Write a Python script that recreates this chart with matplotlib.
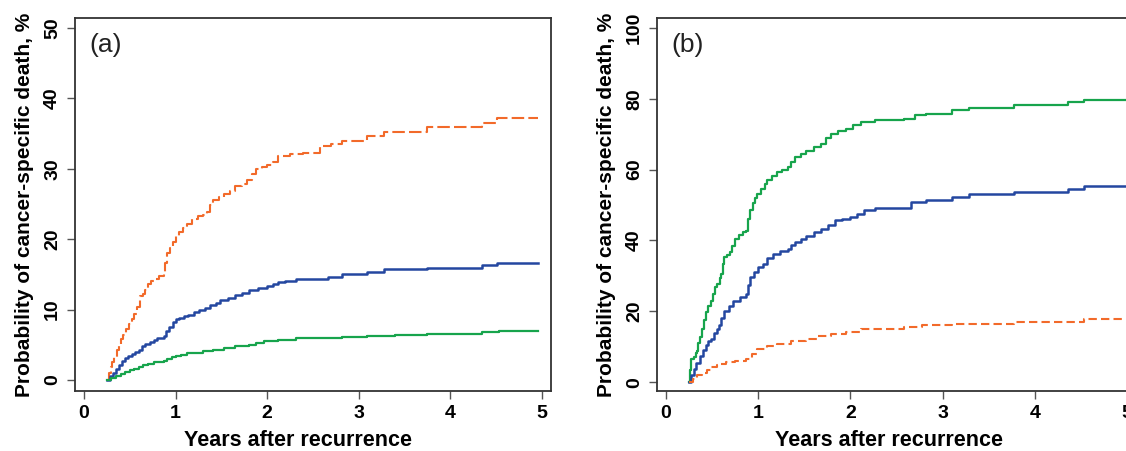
import matplotlib.pyplot as plt

plt.rcParams['font.family'] = ['Liberation Sans', 'DejaVu Sans']

ORANGE = '#F26A2A'
BLUE = '#2447A0'
GREEN = '#17A44C'

# Panel (a): cumulative incidence, years after recurrence vs percent
a_orange_x = [0.25, 0.27, 0.29, 0.31, 0.33, 0.36, 0.38, 0.40, 0.43, 0.46, 0.49, 0.52, 0.55, 0.58, 0.61, 0.64, 0.67, 0.70, 0.73, 0.77, 0.82, 0.87, 0.89, 0.91, 0.94, 0.97, 1.0, 1.04, 1.08, 1.13, 1.18, 1.24, 1.30, 1.34, 1.38, 1.41, 1.47, 1.53, 1.59, 1.65, 1.72, 1.78, 1.83, 1.88, 1.94, 2.0, 2.06, 2.12, 2.25, 2.39, 2.58, 2.70, 2.82, 3.09, 3.28, 3.75, 4.34, 4.51, 4.96]
a_orange_y = [0.0, 1.0, 1.8, 2.6, 3.2, 4.2, 5.0, 5.8, 6.4, 7.2, 8.0, 8.6, 9.4, 10.4, 11.9, 12.2, 12.8, 13.6, 14.0, 14.4, 14.8, 15.2, 16.6, 18.0, 18.8, 19.6, 20.4, 21.0, 21.6, 22.2, 22.8, 23.3, 23.5, 23.9, 24.8, 25.6, 26.0, 26.4, 26.9, 27.5, 27.9, 28.4, 29.2, 29.9, 30.3, 30.6, 31.0, 31.8, 32.1, 32.2, 33.2, 33.5, 33.9, 34.6, 35.2, 35.9, 36.5, 37.2, 37.2]

a_blue_x = [0.25, 0.28, 0.32, 0.35, 0.38, 0.42, 0.45, 0.48, 0.52, 0.56, 0.60, 0.63, 0.67, 0.72, 0.76, 0.80, 0.87, 0.90, 0.93, 0.97, 1.0, 1.04, 1.09, 1.14, 1.20, 1.26, 1.32, 1.38, 1.44, 1.49, 1.57, 1.65, 1.72, 1.80, 1.90, 2.0, 2.06, 2.12, 2.20, 2.31, 2.58, 2.66, 2.82, 3.09, 3.28, 3.75, 4.34, 4.51, 4.96]
a_blue_y = [0.0, 0.6, 1.0, 1.6, 2.2, 2.7, 3.1, 3.4, 3.7, 4.0, 4.3, 4.8, 5.1, 5.4, 5.7, 6.0, 6.2, 7.0, 7.6, 8.2, 8.6, 8.8, 9.1, 9.3, 9.7, 10.0, 10.2, 10.7, 11.0, 11.4, 11.7, 12.1, 12.4, 12.8, 13.0, 13.3, 13.6, 13.9, 14.1, 14.3, 14.3, 14.7, 15.1, 15.4, 15.7, 15.9, 16.3, 16.6, 16.6]

a_green_x = [0.25, 0.30, 0.35, 0.40, 0.45, 0.50, 0.55, 0.60, 0.64, 0.70, 0.76, 0.82, 0.87, 0.91, 0.96, 1.0, 1.06, 1.12, 1.18, 1.30, 1.41, 1.53, 1.65, 1.80, 1.88, 1.96, 2.05, 2.12, 2.31, 2.60, 2.82, 3.09, 3.40, 3.75, 4.34, 4.53, 4.96]
a_green_y = [0.0, 0.3, 0.6, 0.9, 1.1, 1.4, 1.6, 1.9, 2.1, 2.3, 2.5, 2.6, 2.7, 3.0, 3.2, 3.4, 3.6, 3.8, 3.9, 4.1, 4.3, 4.5, 4.8, 5.0, 5.3, 5.5, 5.6, 5.7, 5.9, 6.0, 6.1, 6.3, 6.4, 6.5, 6.8, 6.9, 6.9]

# Panel (b)
b_green_x = [0.25, 0.26, 0.27, 0.30, 0.32, 0.34, 0.35, 0.37, 0.39, 0.41, 0.43, 0.46, 0.49, 0.51, 0.53, 0.55, 0.58, 0.60, 0.62, 0.63, 0.66, 0.69, 0.72, 0.75, 0.79, 0.83, 0.87, 0.89, 0.91, 0.94, 0.97, 0.99, 1.03, 1.07, 1.10, 1.15, 1.20, 1.26, 1.32, 1.36, 1.40, 1.46, 1.52, 1.60, 1.68, 1.74, 1.79, 1.87, 1.95, 2.03, 2.11, 2.27, 2.58, 2.70, 2.82, 3.10, 3.29, 3.77, 4.36, 4.53, 4.99]
b_green_y = [0.0, 3.5, 6.6, 7.2, 8.2, 8.9, 11.0, 12.7, 15.0, 17.5, 19.8, 21.5, 23.0, 25.0, 26.8, 27.8, 29.5, 30.6, 33.5, 35.3, 36.0, 36.7, 38.5, 40.5, 41.5, 42.3, 42.8, 46.0, 48.5, 50.5, 52.0, 53.2, 54.5, 56.0, 57.0, 58.2, 59.3, 60.0, 60.7, 62.2, 63.6, 64.5, 65.4, 66.3, 67.3, 68.8, 70.2, 70.9, 71.6, 72.5, 73.4, 73.9, 74.4, 75.3, 75.8, 76.7, 77.5, 78.3, 79.1, 79.8, 79.8]

b_blue_x = [0.25, 0.27, 0.30, 0.33, 0.37, 0.40, 0.43, 0.46, 0.49, 0.52, 0.55, 0.57, 0.60, 0.63, 0.68, 0.73, 0.80, 0.87, 0.89, 0.91, 0.95, 1.0, 1.05, 1.10, 1.16, 1.24, 1.32, 1.36, 1.40, 1.46, 1.52, 1.60, 1.68, 1.76, 1.83, 1.91, 1.99, 2.07, 2.15, 2.27, 2.58, 2.66, 2.82, 3.10, 3.29, 3.77, 4.36, 4.53, 4.99]
b_blue_y = [0.0, 2.0, 3.8, 5.5, 7.5, 9.0, 10.5, 11.5, 12.2, 14.0, 15.0, 16.0, 18.0, 20.2, 21.5, 23.0, 24.0, 25.0, 27.5, 29.7, 31.0, 32.5, 33.5, 35.0, 36.3, 37.0, 37.7, 38.6, 39.5, 40.5, 41.4, 42.3, 43.3, 44.5, 45.7, 46.2, 46.6, 47.5, 48.5, 49.2, 49.2, 50.8, 51.5, 52.4, 53.0, 53.7, 54.6, 55.5, 55.5]

b_orange_x = [0.25, 0.29, 0.34, 0.39, 0.44, 0.49, 0.55, 0.60, 0.65, 0.75, 0.87, 0.93, 0.99, 1.10, 1.20, 1.35, 1.52, 1.65, 1.79, 1.95, 2.11, 2.58, 2.78, 3.10, 3.77, 4.53, 4.99]
b_orange_y = [0.0, 1.0, 1.9, 2.7, 3.5, 4.2, 4.8, 5.2, 5.6, 6.1, 6.6, 8.0, 9.4, 10.1, 10.8, 11.5, 12.2, 12.9, 13.7, 14.3, 15.1, 15.5, 16.0, 16.5, 17.0, 17.9, 17.9]

x_ticks = [0, 1, 2, 3, 4, 5]

fig = plt.figure(figsize=(11.26, 4.51), dpi=100)
ax_a = fig.add_axes([0.0666, 0.133, 0.4227, 0.827])
ax_b = fig.add_axes([0.5835, 0.133, 0.4254, 0.827])


def style(ax, ylim, yticks, label, xlab_pos):
    ax.set_xlim(-0.098, 5.098)
    ax.set_ylim(*ylim)
    ax.set_xticks(x_ticks)
    ax.set_yticks(yticks)
    ax.tick_params(direction='out', length=6, width=1, color='#555555',
                   labelsize=14, pad=4)
    for t in ax.get_xticklabels() + ax.get_yticklabels():
        t.set_fontweight('bold')
    for t in ax.get_yticklabels():
        t.set_rotation(90)
        t.set_va('center')
    for s in ax.spines.values():
        s.set_linewidth(1.3)
        s.set_color('#333333')
    ax.set_xlabel('Years after recurrence', fontsize=15.5, fontweight='bold')
    ax.xaxis.set_label_coords(xlab_pos, -0.105)
    ax.set_ylabel('Probability of cancer-specific death, %', fontsize=15,
                  fontweight='bold', labelpad=7)
    ax.text(0.03, 0.96, label, transform=ax.transAxes, fontsize=19,
            va='top', ha='left', color='#222222')


ax_a.plot(a_orange_x, a_orange_y, drawstyle='steps-post', color=ORANGE, lw=1.5, linestyle=(0, (6, 2)))
ax_a.plot(a_blue_x, a_blue_y, drawstyle='steps-post', color=BLUE, lw=1.8)
ax_a.plot(a_green_x, a_green_y, drawstyle='steps-post', color=GREEN, lw=1.6)
style(ax_a, (-1.56, 51.4), [0, 10, 20, 30, 40, 50], '(a)', 0.468)

ax_b.plot(b_green_x, b_green_y, drawstyle='steps-post', color=GREEN, lw=1.6)
ax_b.plot(b_blue_x, b_blue_y, drawstyle='steps-post', color=BLUE, lw=1.8)
ax_b.plot(b_orange_x, b_orange_y, drawstyle='steps-post', color=ORANGE, lw=1.5, linestyle=(0, (4, 2)))
style(ax_b, (-2.5, 102.8), [0, 20, 40, 60, 80, 100], '(b)', 0.484)

fig.savefig('out.png', dpi=100)
